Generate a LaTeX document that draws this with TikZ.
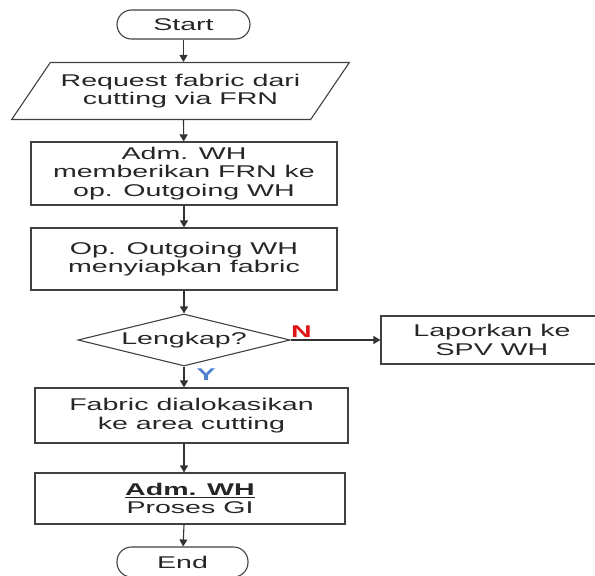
\documentclass[tikz,border=0pt]{standalone}
\usepackage{fontspec}
\setmainfont{Liberation Sans}[FakeStretch=1.68]
\usetikzlibrary{arrows.meta, shapes.geometric}
\definecolor{ylabel}{RGB}{80,130,210}
\definecolor{nlabel}{RGB}{225,20,20}

\begin{document}
\begin{tikzpicture} [x=1pt, y=-1pt, align=center,
	every node/.style={font=\fontsize{17}{18.5}\selectfont, text=black!85, inner sep=0pt},
	box/.style={rectangle, draw=black!75, line width=1.1pt},
	term/.style={box, rounded corners=14.5pt},
	io/.style={trapezium, draw=black!75, line width=1.1pt, trapezium left angle=44, trapezium right angle=136, trapezium stretches=true},
	dec/.style={diamond, draw=black!75, line width=1.1pt, aspect=4},
	flow/.style={draw=black!80, line width=1.1pt, -{Triangle[length=7pt, width=8pt]}}]
\useasboundingbox (0,0) rectangle (595,576);
\path (183.5,24.5) node[term, minimum width=133, minimum height=29] (start) {Start}
	  (180.5,91) node[io, minimum width=339, minimum height=57] (req) {Request fabric dari\\cutting via FRN}
	  (184,173.5) node[box, minimum width=306, minimum height=63] (adm) {Adm. WH\\memberikan FRN ke\\op. Outgoing WH}
	  (184,259) node[box, minimum width=306, minimum height=62] (prep) {Op. Outgoing WH\\menyiapkan fabric}
	  (184,340) node[dec, minimum width=212, minimum height=52] (cek) {Lengkap?}
	  (492,340) node[box, minimum width=222, minimum height=48] (lap) {Laporkan ke\\SPV WH}
	  (191.5,415.5) node[box, minimum width=313, minimum height=55] (fab) {Fabric dialokasikan\\ke area cutting}
	  (190,498.5) node[box, minimum width=310, minimum height=51] (gi) {\underline{\textbf{Adm. WH}}\\Proses GI}
	  (182.5,562) node[term, minimum width=131, minimum height=30] (end) {End};

\draw[flow] (start) -- (start |- req.north);
\draw[flow] (start |- req.south) -- (adm);
\draw[flow] (adm) -- (prep);
\draw[flow] (prep) -- (cek);
\draw[flow] (cek.east) -- node[pos=0.12, above, text=nlabel, font=\fontsize{17}{18.5}\selectfont\bfseries, yshift=2pt] (no) {N} (lap.west);
\draw[flow] (cek.south) -- node[pos=0.4, right, text=ylabel, font=\fontsize{17}{18.5}\selectfont\bfseries, xshift=12pt] (yes) {Y} (cek.south |- fab.north);
\draw[flow] (cek.south |- fab.south) -- (cek.south |- gi.north);
\draw[flow] (cek.south |- gi.south) -- (end);
\end{tikzpicture}
\end{document}
